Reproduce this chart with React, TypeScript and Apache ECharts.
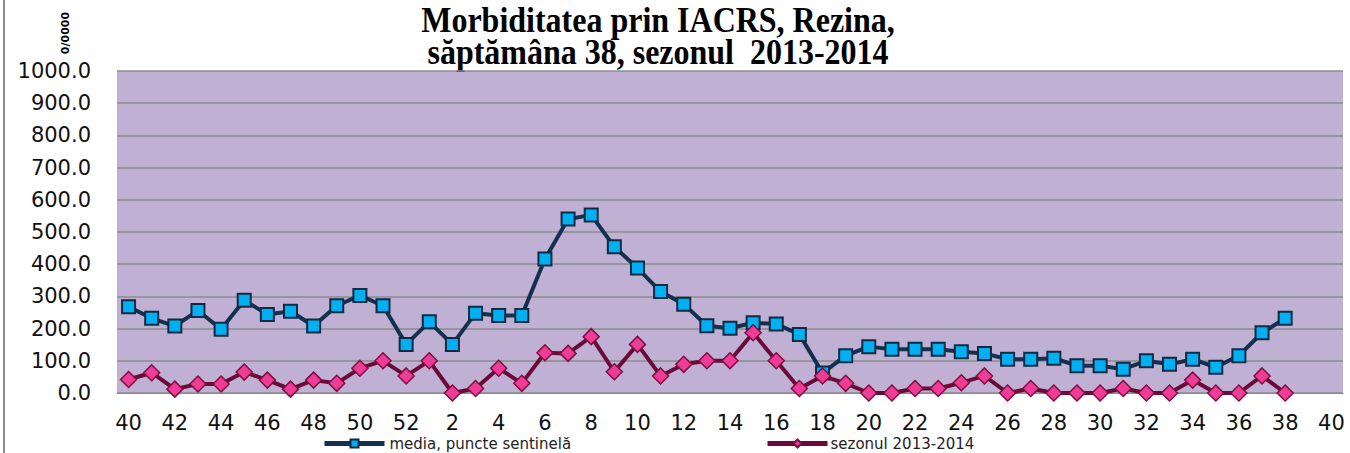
import React, { useEffect, useRef } from "react";
import * as echarts from "echarts";

const weeks: string[] = [
  "40", "41", "42", "43", "44", "45", "46", "47", "48", "49", "50", "51", "52",
  "1", "2", "3", "4", "5", "6", "7", "8", "9", "10", "11", "12", "13", "14", "15",
  "16", "17", "18", "19", "20", "21", "22", "23", "24", "25", "26", "27", "28",
  "29", "30", "31", "32", "33", "34", "35", "36", "37", "38", "39", "40",
];

const mediaName = "media, puncte sentinelă";
const sezonName = "sezonul 2013-2014";

const media: (number | null)[] = [
  268, 232, 208, 256, 198, 288, 244, 254, 208, 271, 303, 271, 151,
  221, 151, 248, 241, 241, 416, 540, 553, 454, 388, 315, 276, 209, 201, 218,
  214, 182, 62, 116, 144, 136, 136, 136, 128, 123, 105, 105, 108,
  85, 85, 74, 100, 89, 105, 80, 116, 187, 232, null, null,
];

const sezon: (number | null)[] = [
  42, 63, 12, 28, 28, 65, 40, 12, 40, 30, 77, 100, 53,
  100, 0, 14, 77, 30, 125, 123, 175, 66, 151, 53, 89, 100, 100, 187,
  100, 14, 53, 30, 0, 0, 14, 14, 32, 53, 0, 14, 0,
  0, 0, 14, 0, 0, 40, 0, 0, 53, 0, null, null,
];

const titleLines: string[] = [
  "Morbiditatea prin IACRS, Rezina,",
  "săptămâna 38, sezonul  2013-2014",
];

export default function App() {
  const ref = useRef<HTMLDivElement>(null);
  useEffect(() => {
    if (!ref.current) return;
    const chart = echarts.init(ref.current, null, { renderer: "svg" });
    const legendText = {
      fontFamily: "DejaVu Sans",
      fontSize: 15,
      lineHeight: 12,
      color: "#222",
    };
    chart.setOption({
      animation: false,
      backgroundColor: "#ffffff",
      grid: {
        left: 117,
        right: 7,
        top: 71,
        bottom: 60,
        show: true,
        backgroundColor: "#c0b1d4",
        borderWidth: 0,
      },
      graphic: [
        {
          type: "rect",
          shape: { x: 3, y: 0, width: 2, height: 453 },
          style: { fill: "#8c8c8c" },
        },
        {
          type: "text",
          x: 658,
          y: 3,
          scaleY: 1.13,
          style: {
            text: titleLines.join("\n"),
            font: 'bold 32px "Liberation Serif"',
            fill: "#000",
            align: "center",
            verticalAlign: "top",
            lineHeight: 29,
          },
        },
        {
          type: "text",
          x: 65,
          y: 33,
          rotation: Math.PI / 2,
          style: {
            text: "0/0000",
            font: 'bold 11px "DejaVu Sans"',
            fill: "#000",
            align: "center",
            verticalAlign: "middle",
          },
        },
      ],
      legend: [
        {
          data: [mediaName],
          left: 322,
          top: 436,
          padding: 0,
          itemWidth: 60,
          itemHeight: 10,
          itemGap: 4,
          lineStyle: { width: 5 },
          textStyle: { ...legendText, padding: [0, 0, 0, 0] },
        },
        {
          data: [sezonName],
          left: 765,
          top: 436,
          padding: 0,
          itemWidth: 60,
          itemHeight: 10,
          lineStyle: { width: 5 },
          textStyle: { ...legendText, padding: [0, 0, 0, -2] },
        },
      ],
      xAxis: {
        type: "category",
        data: weeks,
        boundaryGap: true,
        axisLine: { show: true, lineStyle: { color: "#8c8c8c", width: 1 } },
        axisTick: { show: false },
        axisLabel: {
          interval: 1,
          color: "#111",
          fontFamily: "DejaVu Sans",
          fontSize: 21,
          lineHeight: 20,
          margin: 20,
        },
      },
      yAxis: {
        type: "value",
        min: 0,
        max: 1000,
        interval: 100,
        axisLine: { show: false },
        axisTick: { show: false },
        splitLine: { show: true, lineStyle: { color: "#8c8c8c", width: 1.5 } },
        axisLabel: {
          color: "#111",
          fontFamily: "DejaVu Sans",
          fontSize: 21,
          margin: 26,
          formatter: (v: number) => v.toFixed(1),
        },
      },
      series: [
        {
          name: mediaName,
          type: "line",
          data: media,
          symbol: "rect",
          symbolSize: 13,
          showAllSymbol: true,
          lineStyle: { color: "#14304f", width: 4 },
          itemStyle: { color: "#00b0f0", borderColor: "#0f2a45", borderWidth: 2 },
        },
        {
          name: sezonName,
          type: "line",
          data: sezon,
          symbol: "diamond",
          symbolSize: 16,
          showAllSymbol: true,
          lineStyle: { color: "#6b0a3a", width: 4 },
          itemStyle: { color: "#f03c96", borderColor: "#7a1040", borderWidth: 1.5 },
        },
      ],
    });
    return () => chart.dispose();
  }, []);
  return (
    <div
      ref={ref}
      style={{ position: "absolute", left: 0, top: 0, width: 1350, height: 453 }}
    />
  );
}
